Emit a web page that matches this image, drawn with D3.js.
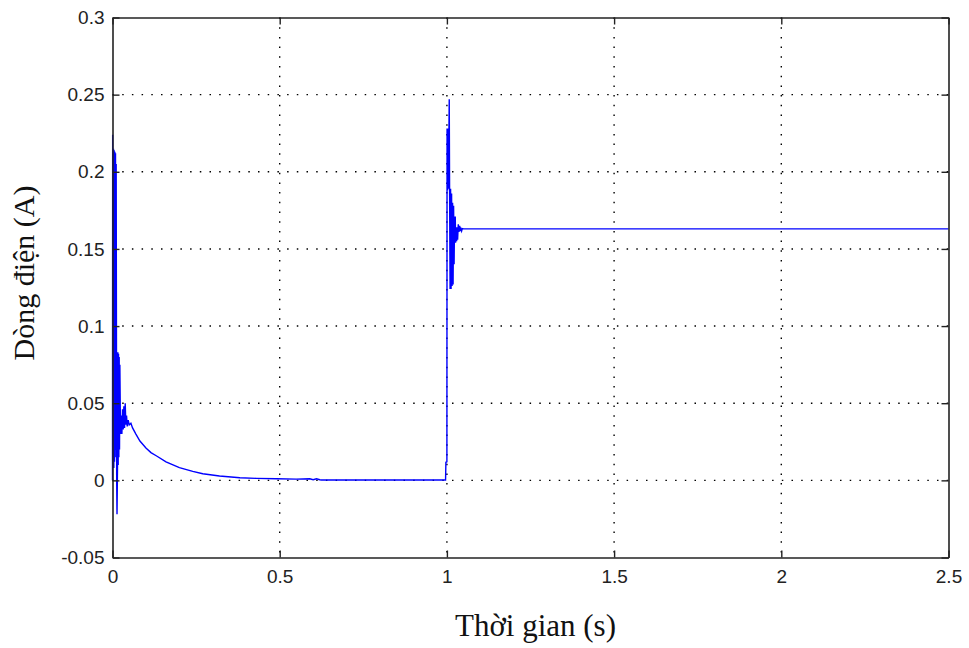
<!DOCTYPE html>
<html>
<head>
<meta charset="utf-8">
<script src="https://cdn.jsdelivr.net/npm/d3@7"></script>
<style>
  html, body { margin: 0; padding: 0; background: #fff; }
  svg { display: block; }
</style>
</head>
<body>
<div id="chart"></div>
<script>
// ---- data ----
const xTicks = [0, 0.5, 1, 1.5, 2, 2.5];
const xTickLabels = ["0", "0.5", "1", "1.5", "2", "2.5"];
const yTicks = [-0.05, 0, 0.05, 0.1, 0.15, 0.2, 0.25, 0.3];
const yTickLabels = ["-0.05", "0", "0.05", "0.1", "0.15", "0.2", "0.25", "0.3"];
const xLabel = "Thời gian (s)";
const yLabel = "Dòng điện (A)";

// current trace: time (s)
const time = [
  0, 0.0005, 0.002, 0.003, 0.004, 0.005, 0.006, 0.007, 0.008, 0.009, 0.010, 0.011,
  0.0125, 0.0135, 0.015, 0.016, 0.017, 0.018, 0.019, 0.020, 0.021, 0.022,
  0.024, 0.026, 0.028, 0.030, 0.032, 0.034, 0.036, 0.038, 0.040, 0.042, 0.044, 0.047,
  0.050, 0.055, 0.060, 0.070, 0.082, 0.100, 0.115, 0.132, 0.160, 0.200, 0.240, 0.270,
  0.320, 0.381, 0.430, 0.490, 0.550, 0.590, 0.600, 0.610, 0.620, 0.625, 0.800, 0.996,
  0.997, 1.0, 1.0005, 1.001, 1.0015, 1.002, 1.0025, 1.003, 1.0035, 1.004, 1.0045, 1.005,
  1.006, 1.007, 1.008, 1.0095, 1.011, 1.0125, 1.014, 1.0155, 1.017, 1.0185, 1.020, 1.0215,
  1.023, 1.024, 1.025, 1.026, 1.028, 1.029, 1.031, 1.032, 1.034, 1.036, 1.038, 1.040,
  1.042, 1.044, 1.046, 1.050, 1.500, 2.000, 2.500
];
// current (A)
const current = [
  0, 0.224, 0.010, 0.215, 0.008, 0.214, 0.012, 0.213, 0.015, 0.212, 0.020, 0.205,
  0.000, -0.022, 0.010, 0.083, 0.010, 0.082, 0.015, 0.080, 0.020, 0.075,
  0.030, 0.042, 0.030, 0.046, 0.033, 0.048, 0.034, 0.050, 0.036, 0.042, 0.035, 0.039,
  0.036, 0.037, 0.034, 0.030, 0.0255, 0.021, 0.018, 0.0158, 0.012, 0.0082, 0.0058, 0.0043,
  0.0028, 0.0017, 0.0013, 0.0010, 0.0008, 0.0010, 0.0004, 0.0010, 0.0004, 0.0002, 0.0002, 0.0002,
  0.0117, 0.0120, 0.228, 0.190, 0.228, 0.188, 0.228, 0.190, 0.227, 0.189, 0.226, 0.190,
  0.225, 0.247, 0.190, 0.124, 0.189, 0.124, 0.186, 0.126, 0.180, 0.127, 0.178, 0.140,
  0.171, 0.154, 0.171, 0.154, 0.164, 0.155, 0.164, 0.156, 0.166, 0.161, 0.165, 0.1616,
  0.163, 0.1616, 0.1632, 0.163, 0.163, 0.163, 0.163
];

// ---- layout ----
const W = 969, H = 648;
const mLeft = 112.5, mRight = 948.5, mTop = 17.5, mBottom = 557.5;

const svg = d3.select("#chart").append("svg")
  .attr("width", W).attr("height", H);

const x = d3.scaleLinear().domain([0, 2.5]).range([mLeft, mRight]);
const y = d3.scaleLinear().domain([-0.05, 0.3]).range([mBottom, mTop]);

// grid
const grid = svg.append("g").attr("class", "grid");
grid.selectAll("line.gx").data(xTicks.slice(1, -1)).join("line")
  .attr("x1", d => x(d)).attr("x2", d => x(d))
  .attr("y1", mTop).attr("y2", mBottom)
  .attr("stroke", "#000").attr("stroke-width", 1.4)
  .attr("stroke-dasharray", "1.5,8.2");
grid.selectAll("line.gy").data(yTicks.slice(1, -1)).join("line")
  .attr("x1", mLeft).attr("x2", mRight)
  .attr("y1", d => y(d)).attr("y2", d => y(d))
  .attr("stroke", "#000").attr("stroke-width", 1.4)
  .attr("stroke-dasharray", "1.5,8.2");

// data line
const line = d3.line().x((d, i) => x(time[i])).y((d, i) => y(current[i]));
svg.append("path")
  .attr("d", line(current))
  .attr("fill", "none")
  .attr("stroke", "#0000ff")
  .attr("stroke-width", 1.4)
  .attr("stroke-linejoin", "miter");

// axes with inward ticks
const tickLen = 7;
const fmtX = (d, i) => xTickLabels[i];
const fmtY = (d, i) => yTickLabels[i];

const axB = svg.append("g").attr("transform", `translate(0,${mBottom})`)
  .call(d3.axisBottom(x).tickValues(xTicks).tickFormat(fmtX).tickSizeInner(-tickLen).tickSizeOuter(0).tickPadding(12));
const axT = svg.append("g").attr("transform", `translate(0,${mTop})`)
  .call(d3.axisTop(x).tickValues(xTicks).tickFormat("").tickSizeInner(-tickLen).tickSizeOuter(0));
const axL = svg.append("g").attr("transform", `translate(${mLeft},0)`)
  .call(d3.axisLeft(y).tickValues(yTicks).tickFormat(fmtY).tickSizeInner(-tickLen).tickSizeOuter(0).tickPadding(8));
const axR = svg.append("g").attr("transform", `translate(${mRight},0)`)
  .call(d3.axisRight(y).tickValues(yTicks).tickFormat("").tickSizeInner(-tickLen).tickSizeOuter(0));

[axB, axT, axL, axR].forEach(a => {
  a.select(".domain").attr("stroke", "#222").attr("stroke-width", 1.6);
  a.selectAll(".tick line").attr("stroke", "#222").attr("stroke-width", 1.4);
  a.selectAll("text").attr("fill", "#222")
    .style("font-family", "'Liberation Sans', Arial, sans-serif")
    .style("font-size", "19px");
});

// axis titles
svg.append("text")
  .attr("x", (mLeft + mRight) / 2 + 5).attr("y", 636)
  .attr("text-anchor", "middle")
  .style("font-family", "'Liberation Serif', 'Times New Roman', serif")
  .style("font-size", "31px")
  .attr("fill", "#111")
  .text(xLabel);

svg.append("text")
  .attr("transform", `translate(34,${273}) rotate(-90)`)
  .attr("text-anchor", "middle")
  .style("font-family", "'Liberation Serif', 'Times New Roman', serif")
  .style("font-size", "30px")
  .attr("fill", "#111")
  .text(yLabel);
</script>
</body>
</html>
